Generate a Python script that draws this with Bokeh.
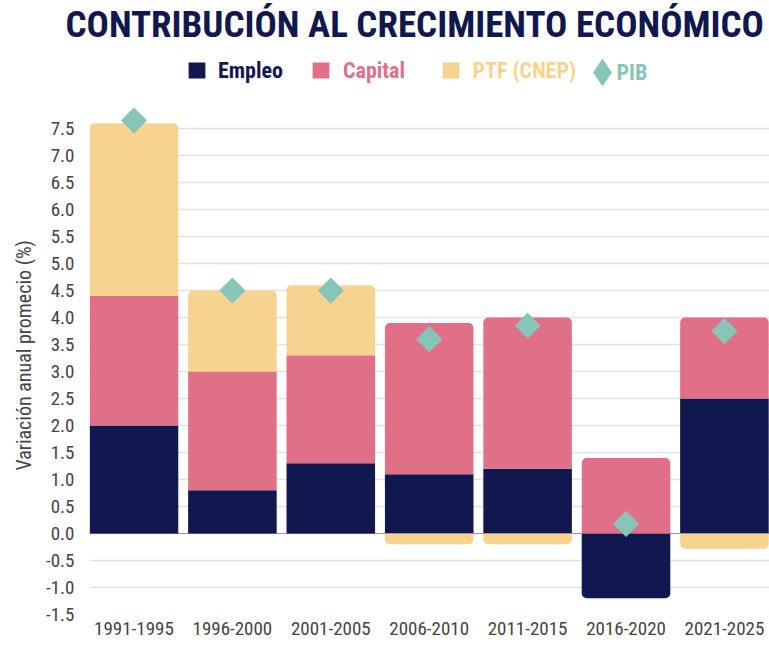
import math
from bokeh.plotting import figure
from bokeh.models import (ColumnDataSource, Range1d, FixedTicker, Span, Label,
                          Legend, LegendItem, PrintfTickFormatter, Title)
from bokeh.embed import file_html
from bokeh.resources import INLINE

# ---------------- data ----------------
periods = ["1991-1995", "1996-2000", "2001-2005", "2006-2010",
           "2011-2015", "2016-2020", "2021-2025"]
empleo = [2.0, 0.8, 1.3, 1.1, 1.2, -1.2, 2.5]
capital = [2.4, 2.2, 2.0, 2.8, 2.8, 1.4, 1.5]
ptf = [3.2, 1.5, 1.3, -0.2, -0.2, 0.0, -0.28]
pib = [7.65, 4.5, 4.5, 3.6, 3.85, 0.18, 3.75]
y_ticks = [-1.5, -1.0, -0.5, 0.0, 0.5, 1.0, 1.5, 2.0, 2.5, 3.0, 3.5,
           4.0, 4.5, 5.0, 5.5, 6.0, 6.5, 7.0, 7.5]

NAVY = "#10184f"
PINK = "#e07087"
YELLOW = "#f6d48f"
TEAL = "#87c5b8"
GREY_TXT = "#444444"
FONT = "'Roboto Condensed', Roboto, sans-serif"

n = len(periods)
xs = list(range(n))

p = figure(width=769, height=645, output_backend="svg", toolbar_location=None,
           x_range=Range1d(-0.452, 6.458), y_range=Range1d(-1.5, 9.04),
           min_border_left=89, min_border_right=0, min_border_top=0,
           min_border_bottom=31)
p.outline_line_color = None
p.background_fill_color = "white"

p.title = Title(text="CONTRIBUCIÓN AL CRECIMIENTO ECONÓMICO", align="left",
                offset=-24, standoff=0, text_font=FONT, text_font_style="bold",
                text_font_size="37px", text_color=NAVY)

# stacked segments (positive and negative stacking)
series = [("Empleo", empleo, NAVY), ("Capital", capital, PINK),
          ("PTF (CNEP)", ptf, YELLOW)]
pos = [0.0] * n
neg = [0.0] * n
segs = []
for name, vals, color in series:
    bt = []
    for i, v in enumerate(vals):
        if v >= 0:
            bt.append((pos[i], pos[i] + v))
            pos[i] += v
        else:
            bt.append((neg[i] + v, neg[i]))
            neg[i] += v
    segs.append(bt)

R = 5
legend_renderers = {}
for (name, vals, color), bt in zip(series, segs):
    groups = {}
    for i, v in enumerate(vals):
        if v == 0:
            continue
        b, t = bt[i]
        rt = v > 0 and abs(t - pos[i]) < 1e-9
        rb = v < 0 and abs(b - neg[i]) < 1e-9
        groups.setdefault((rt, rb), {"x": [], "top": [], "bottom": []})
        g = groups[(rt, rb)]
        g["x"].append(i)
        g["top"].append(t)
        g["bottom"].append(b)
    for (rt, rb), g in groups.items():
        radius = (R if rt else 0, R if rt else 0, R if rb else 0, R if rb else 0)
        r = p.vbar(x="x", top="top", bottom="bottom", width=0.9,
                   source=ColumnDataSource(g), fill_color=color,
                   line_color=None, border_radius=radius)
        legend_renderers.setdefault(name, r)

p.add_layout(Span(location=0, dimension="width", line_color="#9a9a9a",
                  line_width=1, level="underlay"))

pib_src = ColumnDataSource(dict(x=xs, y=pib))
p.scatter(x="x", y="y", source=pib_src, marker="square", angle=math.pi / 4,
          size=18.5, fill_color=TEAL, line_color=None)
pib_leg = p.scatter(x="x", y="y", source=pib_src, marker="diamond", size=28,
                    fill_color=TEAL, line_color=None, visible=False)

# axes
p.xaxis.ticker = FixedTicker(ticks=xs)
p.xaxis.major_label_overrides = {i: periods[i] for i in xs}
p.yaxis.ticker = FixedTicker(ticks=y_ticks)
p.yaxis.formatter = PrintfTickFormatter(format="%.1f")
p.xgrid.visible = False
p.ygrid.ticker = FixedTicker(ticks=y_ticks)
p.ygrid.grid_line_color = "#e2e2e2"
p.ygrid.grid_line_width = 1.5
for ax in (p.xaxis[0], p.yaxis[0]):
    ax.axis_line_color = None
    ax.major_tick_line_color = None
    ax.minor_tick_line_color = None
    ax.major_tick_out = 0
    ax.major_tick_in = 0
    ax.major_label_text_font = FONT
    ax.major_label_text_color = GREY_TXT
p.xaxis.major_label_text_font_size = "19px"
p.xaxis.major_label_standoff = 7
p.yaxis.major_label_text_font_size = "19px"
p.yaxis.major_label_standoff = 15

p.add_layout(Title(text="Variación anual promecio (%)", align="left",
                   offset=144, text_font=FONT, text_font_style="normal",
                   text_font_size="20px", text_color=GREY_TXT, standoff=15),
             "left")

# legends (one per item so each label has its own colour)
def add_legend(label, renderer, color, vx, vy, gw, gh, standoff):
    leg = Legend(items=[LegendItem(label=label, renderers=[renderer])],
                 location=(vx, vy), orientation="horizontal",
                 background_fill_alpha=0, border_line_alpha=0, padding=0,
                 margin=0, spacing=0, glyph_width=gw, glyph_height=gh,
                 label_height=gh, label_standoff=standoff,
                 label_text_font=FONT, label_text_font_style="bold",
                 label_text_font_size="22px", label_text_color=color,
                 label_text_baseline="middle")
    p.add_layout(leg)

add_legend("Empleo", legend_renderers["Empleo"], NAVY, 97, 531.5, 21, 20, 11)
add_legend("Capital", legend_renderers["Capital"], PINK, 221, 531.5, 21, 20, 12)
add_legend("PTF (CNEP)", legend_renderers["PTF (CNEP)"], YELLOW, 350.5, 531.5, 21, 20, 12)
add_legend("", pib_leg, TEAL, 477.5, 507, 70, 70, 0)
p.add_layout(Label(x=527, y=542, x_units="screen", y_units="screen",
                   text="PIB", text_font=FONT, text_font_style="bold",
                   text_font_size="22px", text_color=TEAL,
                   text_baseline="middle"))

open("out.html", "w").write(file_html(p, INLINE))
